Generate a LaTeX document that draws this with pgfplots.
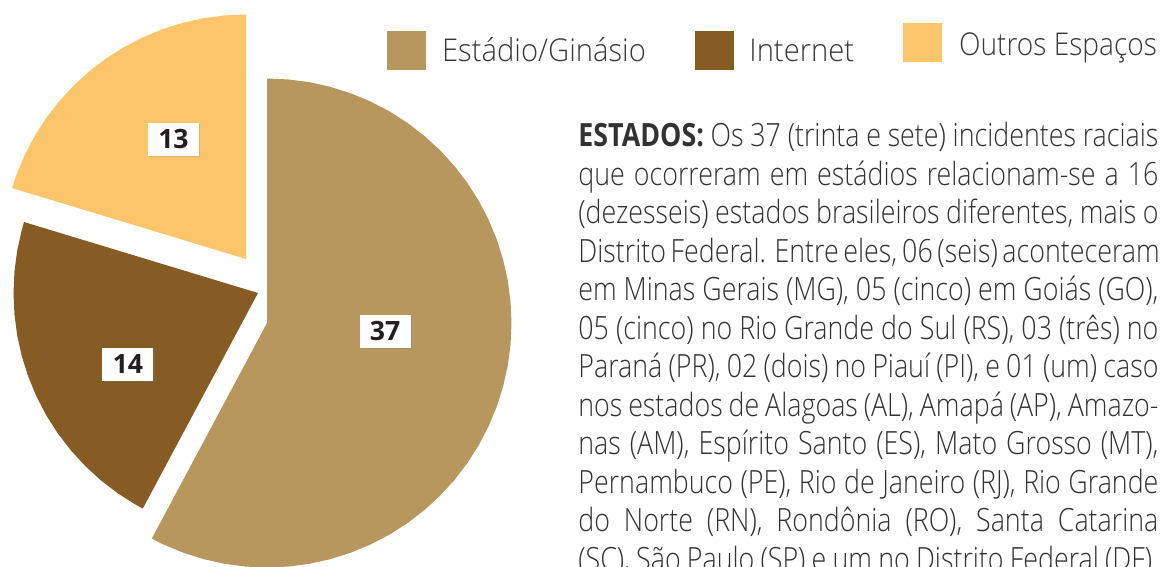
\documentclass[border=0pt]{standalone}
\usepackage{fontspec}
\usepackage{graphicx}
\usepackage{pgfplots}
\pgfplotsset{compat=1.18}
\usepgfplotslibrary{polar}
\usetikzlibrary{shadows}

\IfFontExistsTF{Open Sans Light}{\newfontfamily\lightf{Open Sans Light}}{\newfontfamily\lightf{Open Sans}}
\newfontfamily\boldf{Open Sans}
\setmainfont{Open Sans}

\definecolor{estadio}{RGB}{184,151,95}
\definecolor{internet}{RGB}{135,92,36}
\definecolor{outros}{RGB}{252,197,108}
\definecolor{lbltxt}{RGB}{35,31,32}
\definecolor{legtxt}{RGB}{58,58,58}
\definecolor{paratxt}{RGB}{50,50,50}

\newlength\natw
\newcommand\parafont{\lightf\fontsize{16}{19.25}\selectfont}
\newcommand\legfont{\lightf\fontsize{15.7}{18}\selectfont}
\newcommand\pline[2]{\node[anchor=base west, inner sep=0pt, text=paratxt] at (289pt,#1)
  {\scalebox{\sx}[1]{\makebox[\natw][s]{\parafont #2}}};}
\newcommand\legtext[3]{\node[anchor=base west, inner sep=0pt, text=legtxt] at #1
  {\scalebox{#2}[1]{\legfont #3}};}

% values: Estadio/Ginasio 37, Internet 14, Outros Espacos 13 (total 64)
% sector angles: 37/64*360 = 208.125, 14/64*360 = 78.75, 13/64*360 = 73.125
\pgfplotsset{
  pieax/.style={hide axis, clip=false, scale only axis,
    width=244.5pt, height=244.5pt, xmin=0, xmax=360, ymin=0, ymax=1, anchor=origin},
}
\tikzset{
  lbl/.style={fill=white, text=lbltxt, inner sep=0pt,
    minimum width=25.5pt, minimum height=16.5pt,
    font=\boldf\bfseries\fontsize{13.3}{14}\selectfont,
    drop shadow={opacity=0.25, shadow xshift=0.6pt, shadow yshift=-0.6pt}},
}

\begin{document}%
\sbox0{\parafont em Minas Gerais (MG), 05 (cinco) em Goiás (GO),}%
\setlength\natw{\wd0}%
\ifdim\natw<1pt \setlength\natw{290pt}\fi
\pgfmathsetmacro\sx{290pt/\natw}%
\begin{tikzpicture}
\useasboundingbox (0,0) rectangle (580.5pt,283.5pt);
\clip (0,0) rectangle (580.5pt,283.5pt);

% Outros Espacos (13)
\begin{polaraxis}[pieax, at={(123pt,154pt)}]
\addplot[fill=outros, draw=none] coordinates {
(90,0) (90,1) (95,1) (100,1) (105,1) (110,1) (115,1) (120,1) (125,1) (130,1)
(135,1) (140,1) (145,1) (150,1) (155,1) (160,1) (163.125,1)
};
\node[lbl] at (axis cs:121.25,0.572) {13};
\end{polaraxis}

% Internet (14)
\begin{polaraxis}[pieax, at={(129pt,137pt)}]
\addplot[fill=internet, draw=none] coordinates {
(163.125,0) (163.125,1) (165,1) (170,1) (175,1) (180,1) (185,1) (190,1) (195,1)
(200,1) (205,1) (210,1) (215,1) (220,1) (225,1) (230,1) (235,1) (240,1) (241.875,1)
};
\node[lbl] at (axis cs:208.8,0.607) {14};
\end{polaraxis}

% Estadio/Ginasio (37)
\begin{polaraxis}[pieax, at={(133.5pt,122pt)}]
\addplot[fill=estadio, draw=none] coordinates {
(90,0) (90,1) (85,1) (80,1) (75,1) (70,1) (65,1) (60,1) (55,1) (50,1) (45,1)
(40,1) (35,1) (30,1) (25,1) (20,1) (15,1) (10,1) (5,1) (0,1) (-5,1) (-10,1)
(-15,1) (-20,1) (-25,1) (-30,1) (-35,1) (-40,1) (-45,1) (-50,1) (-55,1) (-60,1)
(-65,1) (-70,1) (-75,1) (-80,1) (-85,1) (-90,1) (-95,1) (-100,1) (-105,1)
(-110,1) (-115,1) (-118.125,1)
};
\node[lbl] at (axis cs:-4.1,0.484) {37};
\end{polaraxis}

% legend
\fill[estadio] (193.5pt,248.5pt) rectangle (213pt,268pt);
\legtext{(220.85pt,252.65pt)}{0.93}{Estádio/Ginásio}
\fill[internet] (347.5pt,248.5pt) rectangle (367pt,268pt);
\legtext{(374.5pt,252.65pt)}{0.93}{Internet}
\fill[outros] (451.5pt,252.5pt) rectangle (471pt,272pt);
\legtext{(479.35pt,255.65pt)}{0.895}{Outros Espaços}

% text block
\pline{210pt}{{\boldf\bfseries ESTADOS:} Os 37 (trinta e sete) incidentes raciais}
\pline{190.75pt}{que ocorreram em estádios relacionam-se a 16}
\pline{171.5pt}{(dezesseis) estados brasileiros diferentes, mais o}
\pline{152.25pt}{Distrito Federal. Entre eles, 06 (seis) aconteceram}
\pline{133pt}{em Minas Gerais (MG), 05 (cinco) em Goiás (GO),}
\pline{113.75pt}{05 (cinco) no Rio Grande do Sul (RS), 03 (três) no}
\pline{94.5pt}{Paraná (PR), 02 (dois) no Piauí (PI), e 01 (um) caso}
\pline{75.25pt}{nos estados de Alagoas (AL), Amapá (AP), Amazo-}
\pline{56pt}{nas (AM), Espírito Santo (ES), Mato Grosso (MT),}
\pline{36.75pt}{Pernambuco (PE), Rio de Janeiro (RJ), Rio Grande}
\pline{17.5pt}{do Norte (RN), Rondônia (RO), Santa Catarina}
\pline{-1.75pt}{(SC), São Paulo (SP) e um no Distrito Federal (DF).}
\end{tikzpicture}%
\end{document}
